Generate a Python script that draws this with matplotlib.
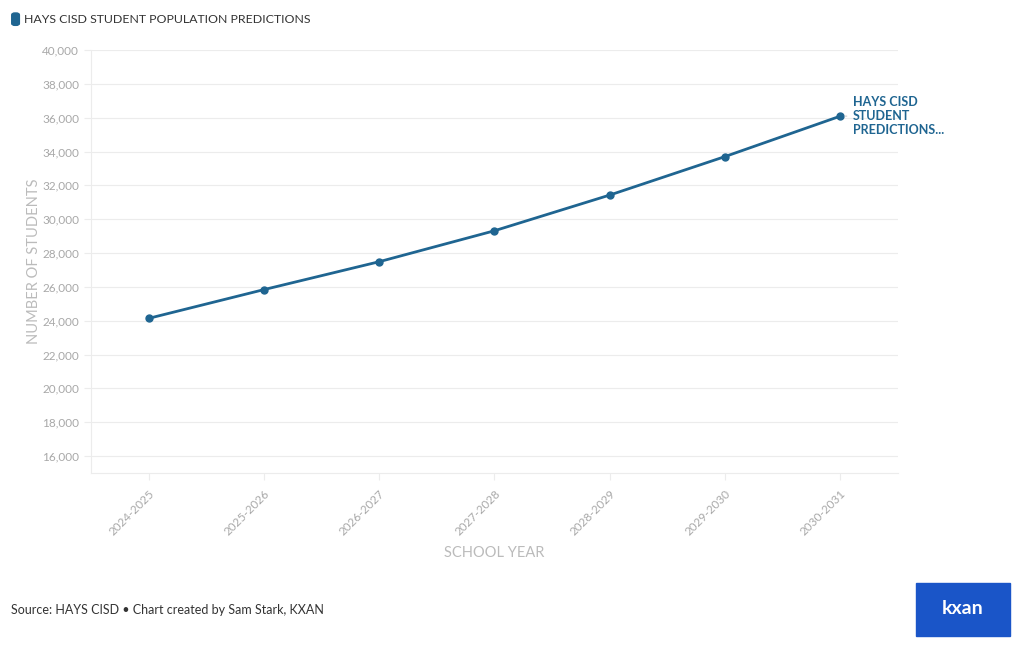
import matplotlib.pyplot as plt
import matplotlib.patches as mpatches

# Hays CISD projected enrollment
years = ["2024-2025", "2025-2026", "2026-2027", "2027-2028",
         "2028-2029", "2029-2030", "2030-2031"]
students = [24140, 25840, 27490, 29320, 31430, 33705, 36095]
y_ticks = list(range(16000, 40001, 2000))

line_color = '#1f6591'
grid_color = '#ececec'
tick_color = '#a8a8a8'

plt.rcParams['font.family'] = ['Lato', 'DejaVu Sans']

fig = plt.figure(figsize=(10.2, 6.5), dpi=100)
fig.patch.set_facecolor('white')
ax = fig.add_axes([0.0892, 0.2723, 0.7912, 0.6507])

x = list(range(len(years)))
ax.plot(x, students, color=line_color, linewidth=2.0, marker='o',
        markersize=5, zorder=3, clip_on=False)

ax.set_xlim(-0.5, len(years) - 0.5)
ax.set_ylim(15000, 40000)
ax.set_yticks(y_ticks)
ax.set_yticklabels([f"{v:,}" for v in y_ticks])
ax.set_xticks(x)
ax.set_xticklabels(years, rotation=45, ha='right', rotation_mode='anchor')

ax.grid(axis='y', color=grid_color, linewidth=0.8)
ax.set_axisbelow(True)
for side in ['top', 'right']:
    ax.spines[side].set_visible(False)
for side in ['left', 'bottom']:
    ax.spines[side].set_color(grid_color)
    ax.spines[side].set_linewidth(0.8)
ax.tick_params(axis='both', colors=grid_color, labelcolor=tick_color,
               labelsize=8.5, length=5, width=0.8)
ax.tick_params(axis='x', pad=6)

ax.set_ylabel('NUMBER OF STUDENTS', color='#bbbbbb', fontsize=10.5, labelpad=1)
ax.set_xlabel('SCHOOL YEAR', color='#bbbbbb', fontsize=10.5, labelpad=6)

# end label
ax.annotate('HAYS CISD\nSTUDENT\nPREDICTIONS...', xy=(x[-1], students[-1]),
            xytext=(9, 0), textcoords='offset points', ha='left', va='center',
            color=line_color, fontsize=9, fontweight='bold', linespacing=1.2,
            annotation_clip=False)
ax.annotate('', xy=(x[-1] + 0.04, students[-1]), xytext=(x[-1] + 0.08, students[-1]),
            arrowprops=dict(arrowstyle='-', color='#cccccc', lw=0.8),
            annotation_clip=False)

# legend swatch + title
fig.patches.append(mpatches.FancyBboxPatch((0.0115, 0.961), 0.0075, 0.019,
                   boxstyle='round,pad=0,rounding_size=0.003',
                   transform=fig.transFigure, color=line_color))
fig.text(0.0235, 0.970, 'HAYS CISD STUDENT POPULATION PREDICTIONS',
         color='#333333', fontsize=8.9, va='center', ha='left')

fig.text(0.011, 0.061, 'Source: HAYS CISD \u2022 Chart created by Sam Stark, KXAN',
         color='#333333', fontsize=9, va='center', ha='left')

# logo block
fig.patches.append(mpatches.Rectangle((0.898, 0.022), 0.092, 0.081,
                   transform=fig.transFigure, color='#1a55c8'))
fig.text(0.944, 0.064, 'kxan', color='white', fontsize=14, fontweight='bold',
         ha='center', va='center')

plt.savefig('out.png', dpi=100, facecolor='white')
plt.close()
